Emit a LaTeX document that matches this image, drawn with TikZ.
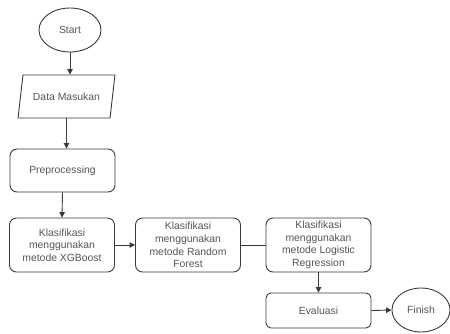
\documentclass[tikz,border=0pt]{standalone}
\usepackage{fontspec}
\setmainfont{Liberation Sans}
\usetikzlibrary{shapes.geometric,arrows.meta}
\definecolor{linec}{HTML}{3A3A3A}
\definecolor{textc}{HTML}{555555}
\tikzset{
  base/.style={draw=linec, line width=0.9pt, text=textc, font=\fontsize{10.4}{12.6}\selectfont, align=center, inner sep=1pt},
  term/.style={base, ellipse, minimum width=62pt, minimum height=44pt},
  io/.style={base, trapezium, trapezium left angle=68, trapezium right angle=112, trapezium stretches=true, minimum width=97pt, minimum height=43pt},
  proc/.style={base, rectangle, rounded corners=7pt, minimum width=105pt, minimum height=54pt},
  arr/.style={draw=linec, line width=0.9pt, -{Triangle[length=5.5pt,width=5.5pt]}},
  ln/.style={draw=linec, line width=0.9pt}
}
\begin{document}
\begin{tikzpicture}[x=1pt,y=-1pt]
\useasboundingbox (0,0) rectangle (450,333);
\node[term] (start) at (70,30) {Start};
\node[io] (data) at (66.5,96.5) {Data Masukan};
\node[proc, minimum height=43pt] (pre) at (62.5,170.5) {Preprocessing};
\node[proc] (xgb) at (62,245) {Klasifikasi\\menggunakan\\metode XGBoost};
\node[proc] (rf) at (188,245) {Klasifikasi\\menggunakan\\metode Random\\Forest};
\node[proc] (lr) at (318.5,245) {Klasifikasi\\menggunakan\\metode Logistic\\Regression};
\node[proc, minimum height=35pt, rounded corners=5pt] (eval) at (318.5,310.5) {Evaluasi};
\node[term, minimum width=58pt] (finish) at (421,310) {Finish};
\draw[arr] (start.south) -- (start.south |- data.north);
\draw[arr] (data.south) -- (data.south |- pre.north);
\draw[arr] (pre.south) -- (xgb.north);
\draw[arr] (xgb.east) -- (rf.west);
\draw[ln] (rf.east) -- (lr.west);
\draw[arr] (lr.south) -- (eval.north);
\draw[arr] (eval.east) -- (finish.west);
\end{tikzpicture}
\end{document}
